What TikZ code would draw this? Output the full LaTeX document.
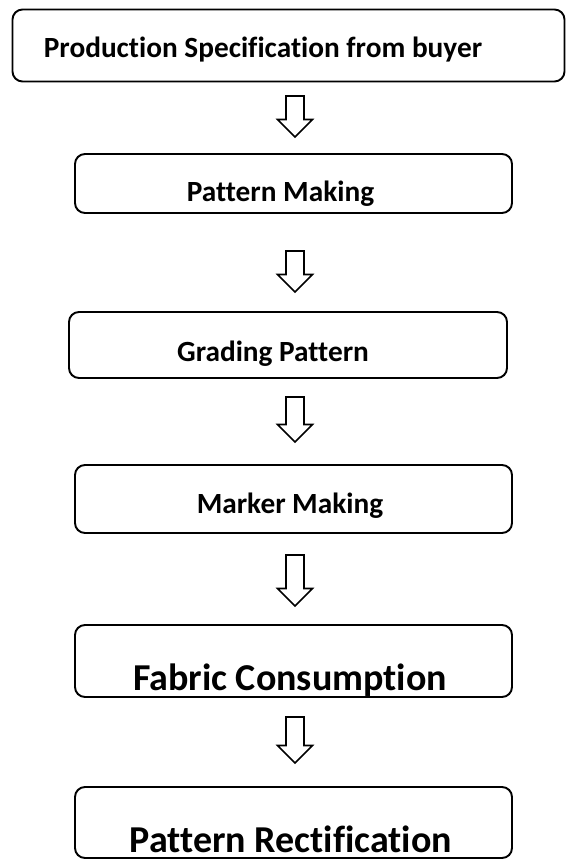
\documentclass[tikz,border=0pt]{standalone}
\usepackage{fontspec}
\setmainfont{Carlito}[Ligatures=NoCommon]
\begin{document}
\begin{tikzpicture}[x=1pt,y=-1pt,
  box/.style={draw=black, line width=1.9pt, rounded corners=10pt, inner sep=0pt},
  lbl/.style={anchor=base, inner sep=0pt},
  small/.style={font=\bfseries\fontsize{29.3}{33}\selectfont},
  large/.style={font=\bfseries\fontsize{38}{43}\selectfont},
  hollowarrow/.style={draw=black, fill=white, line width=1.6pt, line join=miter}]
\useasboundingbox (0,0) rectangle (566,859);

% process boxes
\node[box, minimum width=552pt, minimum height=72pt] (b1) at (288.5,45.5) {};
\node[box, minimum width=437pt, minimum height=59pt] (b2) at (293.5,183.5) {};
\node[box, minimum width=438pt, minimum height=66pt] (b3) at (288,345) {};
\node[box, minimum width=437pt, minimum height=68pt] (b4) at (293.5,499) {};
\node[box, minimum width=437pt, minimum height=72pt] (b5) at (293.5,661) {};
\node[box, minimum width=437pt, minimum height=71pt] (b6) at (293.5,822.5) {};

% box texts
\node[lbl, small] (t1) at (263,57) {Production Specification from buyer};
\node[lbl, small] (t2) at (280.5,201) {Pattern Making};
\node[lbl, small] (t3) at (273,361) {Grading Pattern};
\node[lbl, small] (t4) at (290,513) {Marker Making};
\node[lbl, large] (t5) at (290,690) {Fabric Consumption};
\node[lbl, large] (t6) at (291,852) {Pattern Rectification};

% hollow down arrows between the boxes: name, tail y, tip y
\newcommand{\hollowdown}[3]{%
  \coordinate (#1) at (295,#2);
  \coordinate (#1 tip) at (295,#3);
  \draw[hollowarrow] (286,#2) -- (304,#2) -- (304,#3-17.5) -- (312.5,#3-17.5)
     -- (#1 tip) -- (277.5,#3-17.5) -- (286,#3-17.5) -- cycle;}
\hollowdown{a1}{96}{137}
\hollowdown{a2}{251}{292}
\hollowdown{a3}{397}{442}
\hollowdown{a4}{555}{606}
\hollowdown{a5}{717}{763}
\end{tikzpicture}
\end{document}
